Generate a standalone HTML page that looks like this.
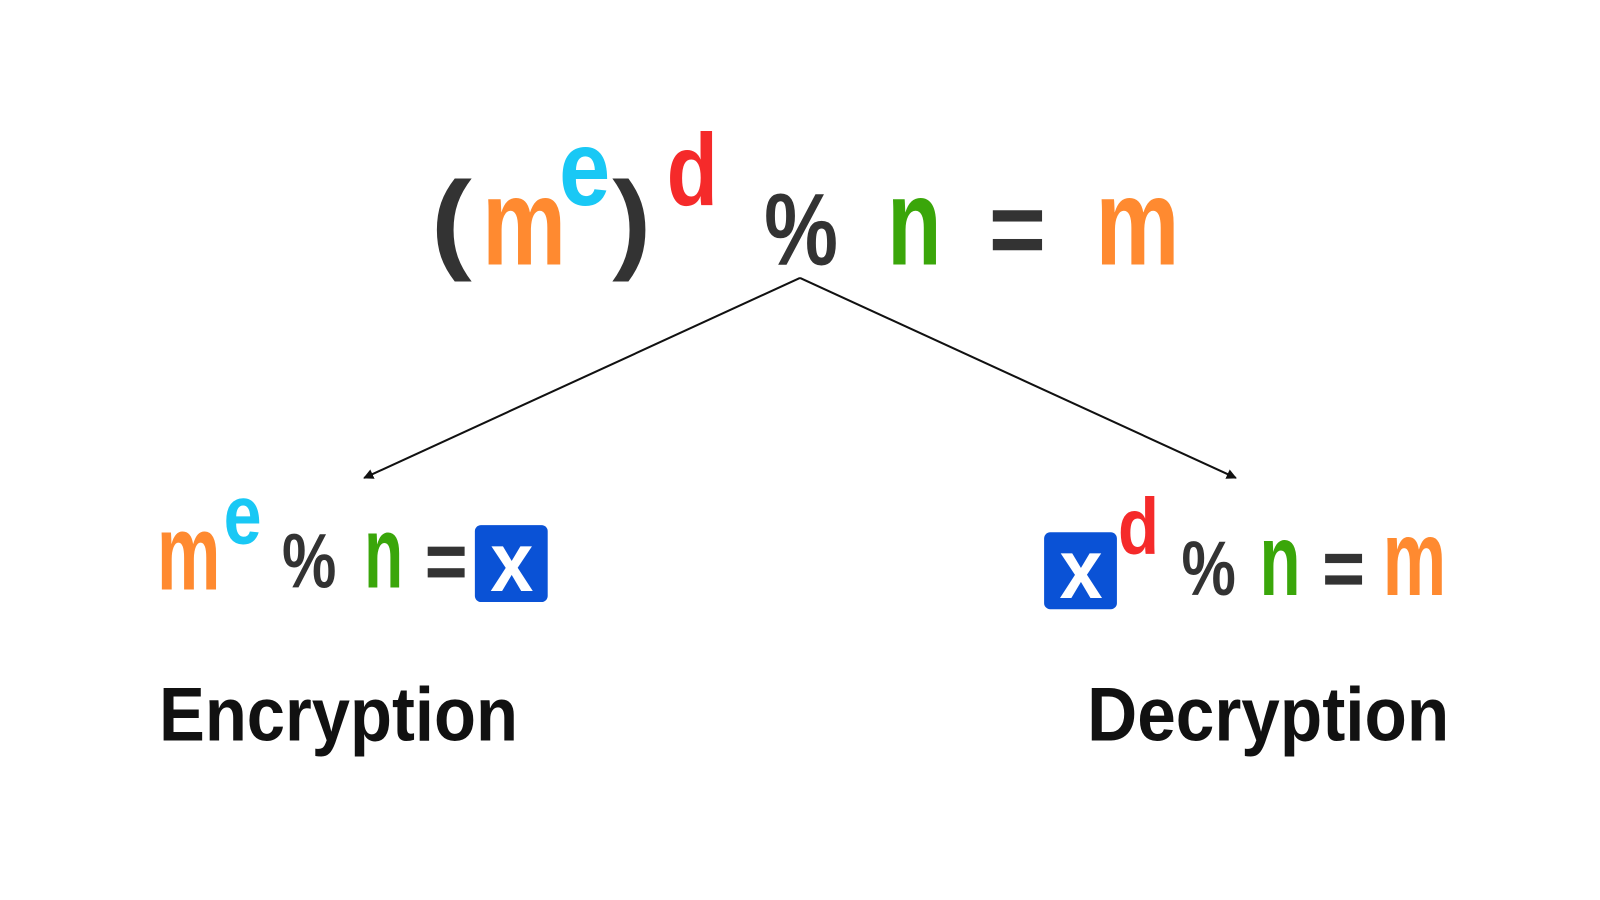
<!DOCTYPE html>
<html><head><meta charset="utf-8"><style>html,body{margin:0;padding:0;background:#fff}svg{display:block}</style></head>
<body>
<svg width="1600" height="900" viewBox="0 0 1560 877.5" xmlns="http://www.w3.org/2000/svg" font-family="Liberation Sans, sans-serif" font-weight="bold">
<defs><marker id="ah" markerWidth="10" markerHeight="10" refX="9" refY="5" orient="auto" markerUnits="userSpaceOnUse"><path d="M0,0 L10,5 L0,10 z" fill="#111"/></marker></defs>
<rect width="1560" height="877.5" fill="#fff"/>
<!-- top formula -->
<text x="420" y="252" font-size="108" fill="#333" textLength="40" lengthAdjust="spacingAndGlyphs">(</text>
<text x="470" y="258" font-size="120" fill="#ff8a30" textLength="82" lengthAdjust="spacingAndGlyphs">m</text>
<text x="545" y="200" font-size="105" fill="#19c8f5" textLength="50" lengthAdjust="spacingAndGlyphs">e</text>
<text x="597" y="252" font-size="108" fill="#333" textLength="38" lengthAdjust="spacingAndGlyphs">)</text>
<text x="650" y="200" font-size="100" fill="#f52a2a" textLength="50" lengthAdjust="spacingAndGlyphs">d</text>
<text x="745" y="258" font-size="100" fill="#333" textLength="72" lengthAdjust="spacingAndGlyphs">%</text>
<text x="865" y="258" font-size="120" fill="#3aa60a" textLength="53" lengthAdjust="spacingAndGlyphs">n</text>
<rect x="968" y="205" width="48" height="11" fill="#333"/>
<rect x="968" y="233" width="48" height="11" fill="#333"/>
<text x="1068" y="258" font-size="120" fill="#ff8a30" textLength="82" lengthAdjust="spacingAndGlyphs">m</text>
<!-- arrows -->
<line x1="780" y1="271" x2="355" y2="466" stroke="#111" stroke-width="2" marker-end="url(#ah)"/>
<line x1="780" y1="271" x2="1205" y2="466" stroke="#111" stroke-width="2" marker-end="url(#ah)"/>
<!-- left -->
<text x="153" y="575" font-size="105" fill="#ff8a30" textLength="62" lengthAdjust="spacingAndGlyphs">m</text>
<text x="218" y="530" font-size="82" fill="#19c8f5" textLength="37" lengthAdjust="spacingAndGlyphs">e</text>
<text x="275" y="573" font-size="75" fill="#333" textLength="53" lengthAdjust="spacingAndGlyphs">%</text>
<text x="355" y="573" font-size="100" fill="#3aa60a" textLength="38" lengthAdjust="spacingAndGlyphs">n</text>
<rect x="417" y="533" width="36" height="9" fill="#333"/>
<rect x="417" y="554" width="36" height="9" fill="#333"/>
<rect x="463" y="512" width="71" height="75" rx="6" fill="#0a52d6"/>
<text x="478" y="576" font-size="82" fill="#fff" textLength="42" lengthAdjust="spacingAndGlyphs">x</text>
<!-- right -->
<rect x="1018" y="519" width="71" height="75" rx="6" fill="#0a52d6"/>
<text x="1033" y="583" font-size="82" fill="#fff" textLength="42" lengthAdjust="spacingAndGlyphs">x</text>
<text x="1090" y="540" font-size="78" fill="#f52a2a" textLength="40" lengthAdjust="spacingAndGlyphs">d</text>
<text x="1152" y="580" font-size="75" fill="#333" textLength="53" lengthAdjust="spacingAndGlyphs">%</text>
<text x="1228" y="580" font-size="100" fill="#3aa60a" textLength="40" lengthAdjust="spacingAndGlyphs">n</text>
<rect x="1292" y="540" width="36" height="9" fill="#333"/>
<rect x="1292" y="561" width="36" height="9" fill="#333"/>
<text x="1348" y="580" font-size="105" fill="#ff8a30" textLength="62" lengthAdjust="spacingAndGlyphs">m</text>
<!-- labels -->
<text x="155" y="722" font-size="74" fill="#111" textLength="350" lengthAdjust="spacingAndGlyphs">Encryption</text>
<text x="1060" y="722" font-size="74" fill="#111" textLength="353" lengthAdjust="spacingAndGlyphs">Decryption</text>
</svg>
</body></html>
